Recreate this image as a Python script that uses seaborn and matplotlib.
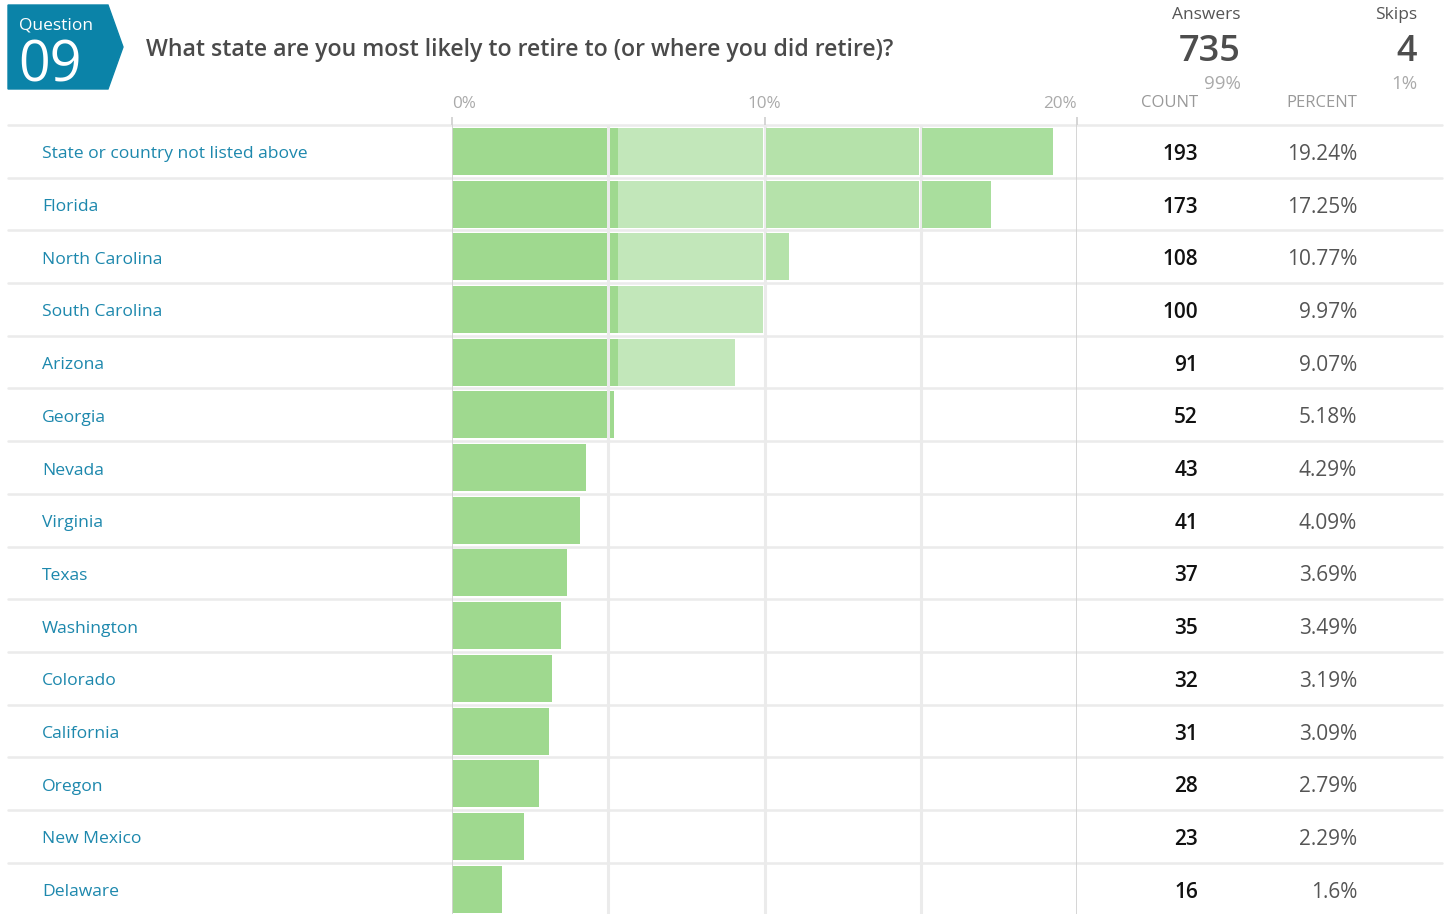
import numpy as np
import matplotlib
matplotlib.use('Agg')
import matplotlib.pyplot as plt
from matplotlib.patches import Polygon
import seaborn as sns

# --- data -------------------------------------------------------------------
CATEGORIES = ["State or country not listed above", "Florida", "North Carolina",
              "South Carolina", "Arizona", "Georgia", "Nevada", "Virginia",
              "Texas", "Washington", "Colorado", "California", "Oregon",
              "New Mexico", "Delaware"]
COUNTS = [193, 173, 108, 100, 91, 52, 43, 41, 37, 35, 32, 31, 28, 23, 16]
PERCENTS = [19.24, 17.25, 10.77, 9.97, 9.07, 5.18, 4.29, 4.09, 3.69, 3.49,
            3.19, 3.09, 2.79, 2.29, 1.6]
X_TICKS = [0, 10, 20]
QUESTION_NO = "09"
QUESTION = "What state are you most likely to retire to (or where you did retire)?"
ANSWERS, ANSWERS_PCT = 735, "99%"
SKIPS, SKIPS_PCT = 4, "1%"

W, H = 1452, 914
sns.set_theme(style='white')
plt.rcParams['font.family'] = ['Open Sans', 'DejaVu Sans']

TEAL = '#0b83a8'
LABEL_C = '#1d88ad'
GRID_C = '#ebebeb'
AXIS_C = '#d2d2d2'


def fx(px):
    return px / W


def fy(py):
    return 1 - py / H


fig = plt.figure(figsize=(W / 100, H / 100), dpi=100)
ax_left, ax_right = 452, 1077
row_top, row_h = 125, 52.7
ax = fig.add_axes([fx(ax_left), fy(row_top + row_h * len(CATEGORIES)),
                   (ax_right - ax_left) / W, row_h * len(CATEGORIES) / H])

# base bars (first 5% shade)
sns.barplot(x=PERCENTS, y=CATEGORIES, orient='h', color='#9fd98f',
            width=0.89, saturation=1, ax=ax, zorder=2)

# shaded segments on top, clipped from the data
vals = np.array(PERCENTS)
ypos = np.arange(len(vals))
gap = 0.05
segments = [(0, 5 - gap, '#9fd98f'), (5 + gap, 5.3, '#9fd98f'),
            (5.3, 10 - gap, '#c2e7ba'), (10 + gap, 15 - gap, '#b5e2aa'),
            (15 + gap, 20, '#a9de9d')]
for p in ax.patches:
    p.set_visible(False)
for lo, hi, col in segments:
    w = np.clip(vals, lo, hi) - lo
    ax.barh(ypos, w, left=lo, height=0.89, color=col, linewidth=0, zorder=2)

ax.set_xlim(0, 20)
ax.set_ylim(len(vals) - 0.5, -0.5)
ax.set_xlabel('')
ax.set_ylabel('')
ax.set_xticks([])
ax.set_yticks([])
for s in ax.spines.values():
    s.set_visible(False)

# vertical grid
for g in [5, 10, 15]:
    ax.axvline(g, color=GRID_C, lw=2.2, zorder=1)
for g in [0, 20]:
    ax.axvline(g, color=AXIS_C, lw=1.3, zorder=3)
for t in X_TICKS:
    ax.vlines(t, -0.66, -0.5, color=AXIS_C, lw=1.3, clip_on=False)

# tick labels
ha_map = {0: 'left', 10: 'center', 20: 'right'}
for t in X_TICKS:
    ax.text(t, -0.9, f"{t}%", ha=ha_map[t], va='center', fontsize=12.3,
            color='#aaaaaa')

# row separators across the whole table
span = ax_right - ax_left
for i in range(len(vals)):
    ax.axhline(i - 0.5, xmin=(8 - ax_left) / span, xmax=(1442 - ax_left) / span,
               color=GRID_C, lw=1.8, clip_on=False, zorder=0)

# row labels and values
for i, (cat, c, p) in enumerate(zip(CATEGORIES, COUNTS, PERCENTS)):
    y = fy(row_top + row_h * (i + 0.5) + 3)
    fig.text(fx(42), y, cat, ha='left', va='center', fontsize=12.6, color=LABEL_C)
    fig.text(fx(1198), y, str(c), ha='right', va='center', fontsize=15,
             color='#111111', fontweight='semibold')
    fig.text(fx(1357), y, f"{p:g}%", ha='right', va='center', fontsize=15,
             color='#555555')

# header
box = Polygon([(fx(8), fy(5)), (fx(108), fy(5)), (fx(123), fy(47)),
               (fx(108), fy(89)), (fx(8), fy(89))], closed=True,
              transform=fig.transFigure, color=TEAL)
fig.patches.append(box)
fig.text(fx(19), fy(29), "Question", ha='left', va='baseline', fontsize=12.5,
         color='white')
fig.text(fx(18), fy(81), QUESTION_NO, ha='left', va='baseline', fontsize=40,
         color='white')
fig.text(fx(146), fy(56), QUESTION, ha='left', va='baseline', fontsize=16.65,
         color='#4a4a4a', fontweight='semibold')

fig.text(fx(1241), fy(19), "Answers", ha='right', va='baseline', fontsize=12.5,
         color='#555555')
fig.text(fx(1241), fy(61), str(ANSWERS), ha='right', va='baseline', fontsize=26,
         color='#4d4d4d', fontweight='semibold')
fig.text(fx(1241), fy(89), ANSWERS_PCT, ha='right', va='baseline', fontsize=13.5,
         color='#aaaaaa')
fig.text(fx(1417), fy(19), "Skips", ha='right', va='baseline', fontsize=12.5,
         color='#555555')
fig.text(fx(1417), fy(61), str(SKIPS), ha='right', va='baseline', fontsize=26,
         color='#4d4d4d', fontweight='semibold')
fig.text(fx(1417), fy(89), SKIPS_PCT, ha='right', va='baseline', fontsize=13.5,
         color='#aaaaaa')
fig.text(fx(1198), fy(107), "COUNT", ha='right', va='baseline', fontsize=12,
         color='#999999')
fig.text(fx(1357), fy(107), "PERCENT", ha='right', va='baseline', fontsize=12,
         color='#999999')

fig.savefig('out.png', dpi=100)
